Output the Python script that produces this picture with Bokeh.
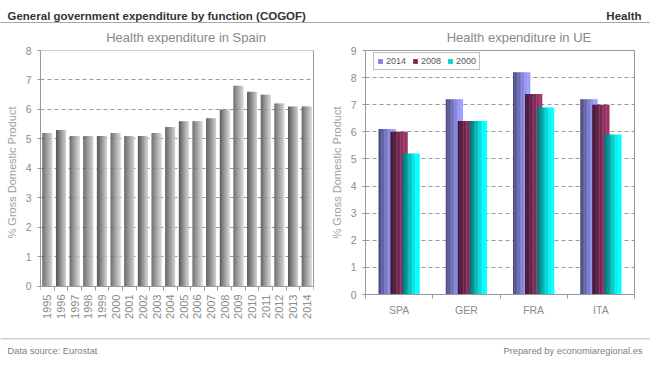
from bokeh.plotting import figure
from bokeh.models import (FactorRange, Range1d, LinearAxis, FixedTicker, Label, Span,
                          Legend, LegendItem, ColumnDataSource, SingleIntervalTicker)
from bokeh.transform import dodge
from bokeh.layouts import column, row
from bokeh.embed import file_html
from bokeh.resources import INLINE

# ---------------- data ----------------
years = ["1995", "1996", "1997", "1998", "1999", "2000", "2001", "2002", "2003", "2004",
         "2005", "2006", "2007", "2008", "2009", "2010", "2011", "2012", "2013", "2014"]
spain_health = [5.2, 5.3, 5.1, 5.1, 5.1, 5.2, 5.1, 5.1, 5.2, 5.4,
                5.6, 5.6, 5.7, 6.0, 6.8, 6.6, 6.5, 6.2, 6.1, 6.1]

countries = ["SPA", "GER", "FRA", "ITA"]
series_names = ["2014", "2008", "2000"]
ue_2014 = [6.1, 7.2, 8.2, 7.2]
ue_2008 = [6.0, 6.4, 7.4, 7.0]
ue_2000 = [5.2, 6.4, 6.9, 5.9]

FONT = "Liberation Sans"
AX = "#999999"
TXT = "#8c8c8c"


def mix(c0, c1, t):
    a = [int(c0[i:i + 2], 16) for i in (1, 3, 5)]
    b = [int(c1[i:i + 2], 16) for i in (1, 3, 5)]
    return "#%02x%02x%02x" % tuple(round(a[j] + (b[j] - a[j]) * t) for j in range(3))


def grad(c0, c1, n, sat=1.0):
    return [mix(c0, c1, min(1.0, (k + 0.5) / n / sat)) for k in range(n)]


def style_common(p, ymax):
    p.background_fill_color = "white"
    p.border_fill_color = "white"
    p.xgrid.visible = False
    p.ygrid.grid_line_color = AX
    p.ygrid.grid_line_dash = "4 3"
    p.yaxis.bounds = (0, ymax)
    p.yaxis.axis_line_color = AX
    p.yaxis.major_tick_line_color = AX
    p.yaxis.major_tick_out = 3
    p.yaxis.major_tick_in = 0
    p.yaxis.minor_tick_line_color = None
    p.yaxis.major_label_text_color = TXT
    p.yaxis.major_label_text_font = FONT
    p.yaxis.major_label_text_font_size = "10.5px"
    p.yaxis.major_label_standoff = 5
    p.yaxis.axis_label = "% Gross Domestic Product"
    p.yaxis.axis_label_text_color = "#a0a0a0"
    p.yaxis.axis_label_text_font = FONT
    p.yaxis.axis_label_text_font_size = "11px"
    p.yaxis.axis_label_text_font_style = "normal"
    p.yaxis.axis_label_standoff = 5
    p.yaxis.ticker = SingleIntervalTicker(interval=1)


def cat_axis(cats, font_size, orientation, standoff, labels=True, ticks=True):
    centers = [i + 0.5 for i in range(len(cats))] if labels else []
    bounds = list(range(len(cats) + 1)) if ticks else []
    ax = LinearAxis(
        ticker=FixedTicker(ticks=centers, minor_ticks=bounds),
        major_label_overrides={i + 0.5: c for i, c in enumerate(cats)} if labels else {},
    )
    ax.axis_line_color = AX if ticks else None
    ax.major_tick_line_color = None
    ax.minor_tick_line_color = AX if ticks else None
    ax.minor_tick_in = 0
    ax.minor_tick_out = 4 if ticks else 0
    ax.major_tick_out = 0
    ax.major_label_text_color = TXT
    ax.major_label_text_font = FONT
    ax.major_label_text_font_size = font_size
    ax.major_label_orientation = orientation
    ax.major_label_standoff = standoff
    return ax


# ---------------- header (with the two chart titles) ----------------
header = figure(width=650, height=44, x_range=Range1d(0, 650), y_range=Range1d(0, 44),
                output_backend="svg", toolbar_location=None, min_border=0,
                x_axis_location=None, y_axis_location=None)
header.outline_line_color = None
header.grid.visible = False
header.add_layout(Span(location=22, dimension="width", line_color="#a8a8a8", line_width=1))
header.add_layout(Label(x=7, y=28.3, text="General government expenditure by function (COGOF)",
                        text_font=FONT, text_font_size="11.5px", text_font_style="bold",
                        text_color="#333333", text_baseline="alphabetic"))
header.add_layout(Label(x=641, y=28.3, text="Health", text_align="right",
                        text_font=FONT, text_font_size="11.5px", text_font_style="bold",
                        text_color="#333333", text_baseline="alphabetic"))
header.add_layout(Label(x=185.5, y=7, text="Health expenditure in Spain", text_align="center",
                        text_baseline="alphabetic", text_font=FONT, text_font_size="13px",
                        text_color="#888888"))
header.add_layout(Label(x=518.5, y=7, text="Health expenditure in UE", text_align="center",
                        text_baseline="alphabetic", text_font=FONT, text_font_size="13px",
                        text_color="#888888"))

# ---------------- left chart: Spain ----------------
# its frame shares the right chart's height; the value axis starts a little below 0 and the
# category line/ticks are fixed at 0, while the year labels hang from the frame's bottom
left = figure(width=325, height=286,
              x_range=FactorRange(factors=years, range_padding=0), y_range=Range1d(-0.283, 8),
              output_backend="svg", toolbar_location=None, x_axis_location=None,
              min_border_left=40, min_border_right=12, min_border_top=6, min_border_bottom=36)
style_common(left, 8)
left.outline_line_color = None
left.add_layout(cat_axis(years, "11px", 1.5707963, 0, labels=True, ticks=False), "below")
left_line = cat_axis(years, "11px", 0, 0, labels=False, ticks=True)
left_line.fixed_location = 0
left.add_layout(left_line, "below")
left_r = LinearAxis(bounds=(0, 8), ticker=FixedTicker(ticks=[]), axis_line_color=AX,
                    major_tick_line_color=None, minor_tick_line_color=None,
                    major_label_standoff=0, major_tick_out=0, major_tick_in=0)
left.add_layout(left_r, "right")
left.add_layout(Span(location=8, dimension="width", line_color=AX, line_width=1))

src_es = ColumnDataSource(dict(year=years, value=spain_health))
BW, N = 0.72, 10
for k, col in enumerate(grad("#565656", "#d0d0d0", N)):
    off = -BW / 2 + (k + 0.5) * BW / N
    left.vbar(x=dodge("year", off, range=left.x_range), top="value", width=BW / N * 1.2,
              source=src_es, fill_color=col, line_color=None)

# ---------------- right chart: UE ----------------
right = figure(width=325, height=286,
               x_range=FactorRange(factors=countries, range_padding=0), y_range=Range1d(0, 9),
               output_backend="svg", toolbar_location=None, x_axis_location=None,
               min_border_left=40, min_border_right=16, min_border_top=6, min_border_bottom=36)
style_common(right, 9)
right.outline_line_color = AX
right.add_layout(cat_axis(countries, "10.5px", "horizontal", 5), "below")

src_ue = ColumnDataSource(dict(country=countries, s2014=ue_2014, s2008=ue_2008, s2000=ue_2000))
BW2, N2 = 0.253, 12
series = [("s2014", -0.178, "#46467a", "#9b9bff"),
          ("s2008", 0.0, "#3c1430", "#993366"),
          ("s2000", 0.178, "#007272", "#00ffff")]
legend_items = []
for (field, center, c0, c1), name in zip(series, series_names):
    rends = []
    for k, col in enumerate(grad(c0, c1, N2, 0.8)):
        off = center - BW2 / 2 + (k + 0.5) * BW2 / N2
        r = right.vbar(x=dodge("country", off, range=right.x_range), top=field,
                       width=BW2 / N2 * 1.2, source=src_ue, fill_color=col, line_color=None)
        rends.append(r)
    legend_items.append(LegendItem(label=name, renderers=[rends[N2 // 2]]))

legend = Legend(items=legend_items, orientation="horizontal", location=(8, 224),
                glyph_width=6, glyph_height=6, label_standoff=3, spacing=6, padding=3,
                margin=0, label_height=10, label_text_font=FONT, label_text_font_size="9px",
                label_text_color="#555555", border_line_color="#808080",
                background_fill_color="white", background_fill_alpha=1.0)
right.add_layout(legend)

# ---------------- footer ----------------
footer = figure(width=650, height=35, x_range=Range1d(0, 650), y_range=Range1d(0, 35),
                output_backend="svg", toolbar_location=None, min_border=0,
                x_axis_location=None, y_axis_location=None)
footer.outline_line_color = None
footer.grid.visible = False
footer.add_layout(Span(location=26.7, dimension="width", line_color="#b8b8b8", line_width=1))
footer.add_layout(Label(x=7, y=15, text="Data source: Eurostat", text_font=FONT,
                        text_font_size="9.3px", text_color="#808080", text_baseline="alphabetic"))
footer.add_layout(Label(x=642, y=15, text="Prepared by economiaregional.es", text_align="right",
                        text_font=FONT, text_font_size="9.3px", text_color="#808080",
                        text_baseline="alphabetic"))

layout = column(header, row(left, right, spacing=0), footer, spacing=0)
open("out.html", "w").write(file_html(layout, INLINE))
